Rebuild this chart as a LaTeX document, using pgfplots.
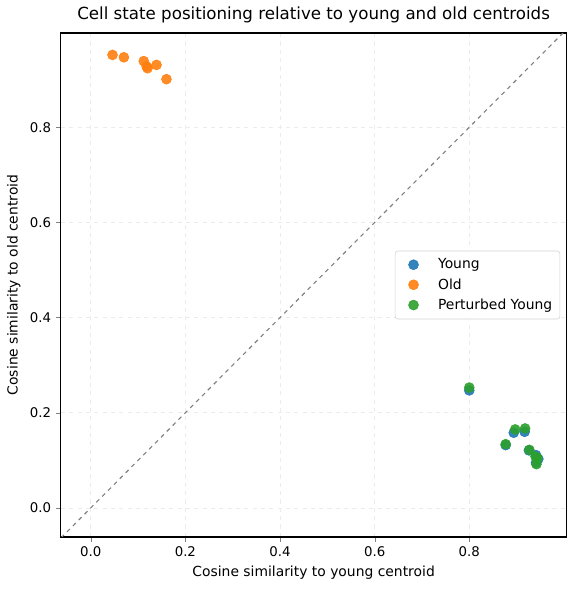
\documentclass[border=0pt]{standalone}
\usepackage{pgfplots}
\pgfplotsset{compat=1.18}
\usepackage{fontspec}
\setmainfont{DejaVu Sans}
\definecolor{tabblue}{HTML}{1F77B4}
\definecolor{taborange}{HTML}{FF7F0E}
\definecolor{tabgreen}{HTML}{2CA02C}
\pgfplotsset{mylegend/.style={legend image code/.code={\path (0pt,0pt) (25pt,0pt); \draw[##1,mark repeat=2,mark phase=2] plot coordinates {(0pt,0pt) (9.5pt,0pt) (25pt,0pt)};}}}
\begin{document}
\begin{tikzpicture}
\begin{axis}[
  name=ax,
  scale only axis,
  width=364pt, height=363pt,
  xmin=-0.063, xmax=1.005, ymin=-0.061, ymax=0.998,
  xtick={0,0.2,0.4,0.6,0.8}, ytick={0,0.2,0.4,0.6,0.8},
  /pgf/number format/assume math mode=true,
  xticklabel style={/pgf/number format/.cd,fixed,fixed zerofill,precision=1},
  yticklabel style={/pgf/number format/.cd,fixed,fixed zerofill,precision=1},
  tick label style={font=\fontsize{9.6}{11}\selectfont},
  label style={font=\fontsize{10}{12}\selectfont},
  title style={font=\fontsize{12}{14}\selectfont, yshift=-2pt},
  title={Cell state positioning relative to young and old centroids},
  xlabel={Cosine similarity to young centroid},
  ylabel={Cosine similarity to old centroid},
  grid=major,
  major grid style={dashed, gray!15, line width=0.5pt},
  tick align=outside, tick pos=left,
  major tick length=3.5pt,
  axis line style={line width=0.8pt},
  legend style={at={(0.988,0.5)}, anchor=east, font=\fontsize{10}{12}\selectfont, draw=gray!35, rounded corners=2pt, row sep=1.5pt, inner sep=3.5pt, inner ysep=3.5pt},
  legend cell align=left,
]
\addplot[domain=-0.1:1.05, samples=2, dashed, gray, line width=0.8pt, forget plot] {x};
\addplot[only marks, mark=*, mark size=3.6pt, color=tabblue, fill opacity=0.9, draw opacity=0.9, mylegend] coordinates {
(0.800,0.247) (0.894,0.158) (0.917,0.160) (0.877,0.132) (0.926,0.121) (0.941,0.111) (0.946,0.103) (0.941,0.095)
};
\addlegendentry{Young}
\addplot[only marks, mark=*, mark size=3.6pt, color=taborange, fill opacity=0.9, draw opacity=0.9, mylegend] coordinates {
(0.046,0.952) (0.070,0.947) (0.112,0.939) (0.120,0.924) (0.118,0.928) (0.139,0.931) (0.160,0.901)
};
\addlegendentry{Old}
\addplot[only marks, mark=*, mark size=3.6pt, color=tabgreen, fill opacity=0.9, draw opacity=0.9, mylegend] coordinates {
(0.800,0.253) (0.897,0.165) (0.918,0.167) (0.877,0.134) (0.927,0.122) (0.944,0.104) (0.942,0.092) (0.940,0.108)
};
\addlegendentry{Perturbed Young}
\end{axis}
\path (ax.south west) ++(-43.9pt,-38.2pt) rectangle ([shift={(5.8pt,23.8pt)}]ax.north east);
\end{tikzpicture}
\end{document}
